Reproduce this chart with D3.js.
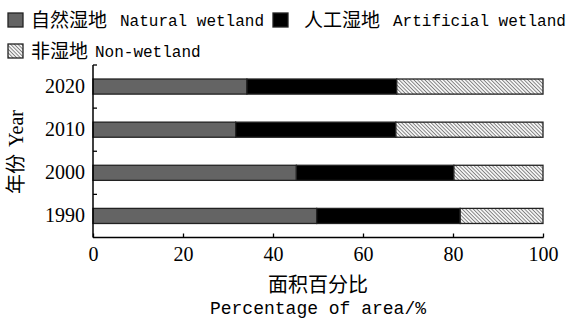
<!DOCTYPE html>
<html>
<head>
<meta charset="utf-8">
<script src="https://d3js.org/d3.v7.min.js"></script>
<style>
  body { margin: 0; background: #fff; }
  .cn { font-family: "Noto Sans CJK SC", sans-serif; }
  .mono { font-family: "Liberation Mono", monospace; }
  .num { font-family: "Liberation Serif", serif; }
  .domain { display: none; }
</style>
</head>
<body>
<svg width="571" height="319"></svg>
<script>
  // data
  const years = ['1990', '2000', '2010', '2020'];
  const natural = [49.7, 45.2, 31.7, 34.2];
  const artificial = [31.9, 35.0, 35.6, 33.3];
  const nonWetland = [18.4, 19.8, 32.7, 32.5];
  const xTicks = [0, 20, 40, 60, 80, 100];

  const seriesKeys = ['natural', 'artificial', 'non'];
  const rows = years.map((y, i) => ({
    year: y, natural: natural[i], artificial: artificial[i], non: nonWetland[i]
  }));

  const svg = d3.select('svg');
  const plotL = 93, plotR = 543, plotT = 65, plotB = 237.5;

  // hatch pattern for non-wetland ("\\\" direction)
  const defs = svg.append('defs');
  const pat = defs.append('pattern')
    .attr('id', 'hatch')
    .attr('patternUnits', 'userSpaceOnUse')
    .attr('width', 2.6).attr('height', 2.6)
    .attr('patternTransform', 'rotate(45)');
  pat.append('rect').attr('width', 2.6).attr('height', 2.6).attr('fill', '#f4f4f4');
  pat.append('line').attr('x1', 0).attr('y1', 0).attr('x2', 2.6).attr('y2', 0)
    .attr('stroke', '#555').attr('stroke-width', 1.3);

  const fills = { natural: '#646464', artificial: '#000', non: 'url(#hatch)' };

  const x = d3.scaleLinear().domain([0, 100]).range([plotL, plotR]);
  const y = d3.scaleBand().domain(years).range([plotB, plotT])
    .paddingInner(0.65).paddingOuter(0.325);

  const stacked = d3.stack().keys(seriesKeys)(rows);

  svg.append('g').selectAll('g')
    .data(stacked)
    .join('g')
    .attr('fill', d => fills[d.key])
    .selectAll('rect')
    .data(d => d)
    .join('rect')
    .attr('x', d => x(d[0]))
    .attr('width', d => x(d[1]) - x(d[0]))
    .attr('y', d => y(d.data.year))
    .attr('height', y.bandwidth())
    .attr('stroke', '#222')
    .attr('stroke-width', 1.3);

  // x axis (ticks point inward)
  const xAxisG = svg.append('g')
    .attr('transform', `translate(0,${plotB})`)
    .call(d3.axisBottom(x).tickValues(xTicks).tickSize(-4).tickPadding(9));
  xAxisG.selectAll('text').attr('class', 'num').attr('font-size', 20).attr('fill', '#000');
  xAxisG.selectAll('.tick line').attr('stroke', '#000').attr('stroke-width', 1.3);
  svg.append('line').attr('x1', plotL).attr('x2', plotR + 0.5)
    .attr('y1', plotB).attr('y2', plotB).attr('stroke', '#000').attr('stroke-width', 1.5);

  // y axis: year labels at band centres, ticks at band boundaries
  const yAxisG = svg.append('g')
    .attr('transform', `translate(${plotL},0)`)
    .call(d3.axisLeft(y).tickSize(0).tickPadding(8));
  yAxisG.selectAll('text').attr('class', 'num').attr('font-size', 20).attr('fill', '#000');
  svg.append('line').attr('x1', plotL).attr('x2', plotL)
    .attr('y1', plotT).attr('y2', plotB).attr('stroke', '#000').attr('stroke-width', 1.5);
  const bounds = years.slice(0, -1).map(yr => y(yr) - y.step() * y.paddingInner() / 2);
  svg.append('g').selectAll('line')
    .data(bounds)
    .join('line')
    .attr('x1', plotL).attr('x2', plotL + 4)
    .attr('y1', d => d).attr('y2', d => d)
    .attr('stroke', '#000').attr('stroke-width', 1.3);
  svg.append('line').attr('x1', plotL).attr('x2', plotL + 4)
    .attr('y1', plotT).attr('y2', plotT).attr('stroke', '#000').attr('stroke-width', 1.3);

  // axis titles
  svg.append('text').attr('class', 'cn').attr('x', (plotL + plotR) / 2).attr('y', 292)
    .attr('text-anchor', 'middle').attr('font-size', 20).text('面积百分比');
  svg.append('text').attr('class', 'mono').attr('x', (plotL + plotR) / 2).attr('y', 314)
    .attr('text-anchor', 'middle').attr('font-size', 18).text('Percentage of area/%');

  const yt = svg.append('text').attr('transform', 'translate(23,152) rotate(-90)')
    .attr('text-anchor', 'middle').attr('font-size', 20);
  yt.append('tspan').attr('class', 'cn').text('年份');
  yt.append('tspan').attr('class', 'num').attr('dx', 7).text('Year');

  // legend
  const legend = [
    { key: 'natural', cn: '自然湿地', en: 'Natural wetland', sx: 8, sy: 13, tx: 31, ex: 120 },
    { key: 'artificial', cn: '人工湿地', en: 'Artificial wetland', sx: 273, sy: 13, tx: 304, ex: 393 },
    { key: 'non', cn: '非湿地', en: 'Non-wetland', sx: 8, sy: 44, tx: 31, ex: 95 }
  ];
  const lg = svg.append('g').selectAll('g').data(legend).join('g');
  lg.append('rect')
    .attr('x', d => d.sx).attr('y', d => d.sy)
    .attr('width', 15).attr('height', 14)
    .attr('fill', d => fills[d.key])
    .attr('stroke', '#222').attr('stroke-width', 1.3);
  lg.append('text').attr('class', 'cn')
    .attr('x', d => d.tx).attr('y', d => d.sy + 14)
    .attr('font-size', 19).text(d => d.cn);
  lg.append('text').attr('class', 'mono')
    .attr('x', d => d.ex).attr('y', d => d.sy + 13)
    .attr('font-size', 16).text(d => d.en);
</script>
</body>
</html>
